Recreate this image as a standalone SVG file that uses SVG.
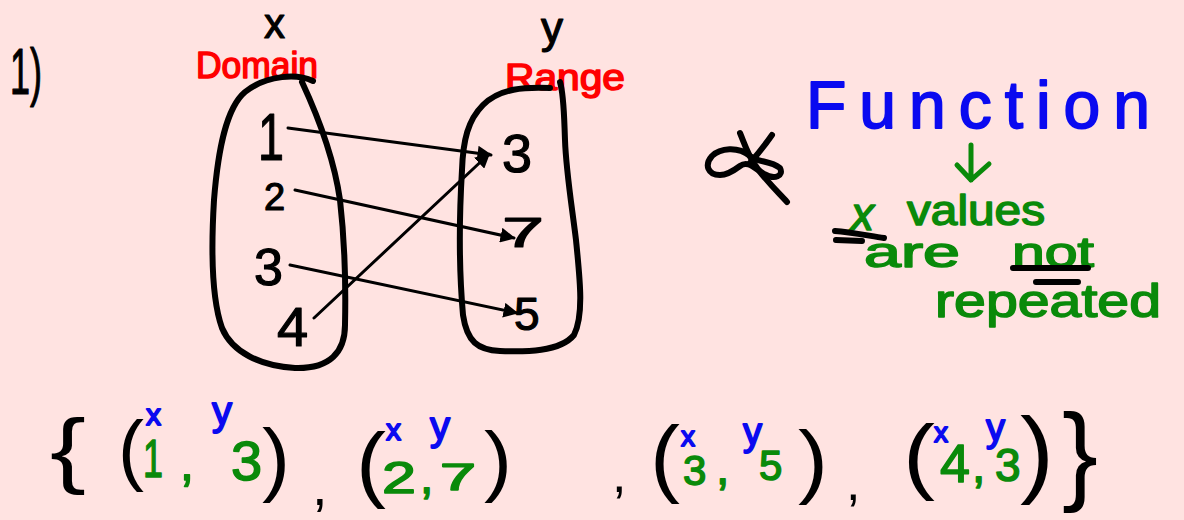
<svg xmlns="http://www.w3.org/2000/svg" width="1184" height="520" viewBox="0 0 1184 520">
<style>
.t{font-family:"Liberation Sans","DejaVu Sans",sans-serif;stroke-linejoin:round;stroke-linecap:round}
.k{fill:#000;stroke:#000;stroke-width:1.2}
.p{fill:#000;stroke:none}
.r{fill:#f00;stroke:#f00;stroke-width:1.5}
.b{fill:#0a0af0;stroke:#0a0af0;stroke-width:1.8}
.g{fill:#0a8a0a;stroke:#0a8a0a;stroke-width:1.5}
.ln{fill:none;stroke:#000;stroke-width:6;stroke-linecap:round;stroke-linejoin:round}
.ar{fill:none;stroke:#000;stroke-width:3;stroke-linecap:round}
</style>
<defs>
<marker id="ah" viewBox="0 0 10 10" refX="9" refY="5" markerWidth="5" markerHeight="5" orient="auto" markerUnits="strokeWidth">
<path d="M0,0 L10,5 L0,10 Z" fill="#000"/>
</marker>
</defs>
<rect width="1184" height="520" fill="#ffe3e1"/>

<g id="label-1">
<text class="t k" x="10" y="94" font-size="64" textLength="32" lengthAdjust="spacingAndGlyphs">1)</text>
</g>

<g id="domain-set">
<text class="t k" x="264" y="38" font-size="42">x</text>
<text class="t r" x="196" y="78" font-size="36" textLength="122" lengthAdjust="spacingAndGlyphs">Domain</text>
<path class="ln" d="M313,81 C298,74 268,74 245,92 C226,108 218,150 214,200 C211,250 212,300 222,328 C232,352 260,366 295,368 C330,369 345,352 345,325 C346,280 344,235 340,200 C335,165 322,125 302,82"/>
<text class="t k" x="258" y="160" font-size="66" textLength="26" lengthAdjust="spacingAndGlyphs">1</text>
<text class="t k" x="264" y="210" font-size="38">2</text>
<text class="t k" x="254" y="285" font-size="52">3</text>
<text class="t k" x="277" y="346" font-size="56">4</text>
</g>

<g id="range-set">
<text class="t k" x="541" y="43" font-size="44">y</text>
<text class="t r" x="505" y="90" font-size="36" textLength="120" lengthAdjust="spacingAndGlyphs">Range</text>
<path class="ln" d="M550,88 C525,87 500,88 483,105 C468,120 463,140 462,170 C459,220 459,270 463,315 C467,342 478,350 500,351 C525,352 560,352 574,335 C584,315 580,280 576,240 C571,200 566,170 565,140 C564,115 564,95 560,82"/>
<text class="t k" x="502" y="172" font-size="54">3</text>
<text class="t k" x="502" y="247" font-size="42" textLength="42" lengthAdjust="spacingAndGlyphs">7</text>
<text class="t k" x="514" y="330" font-size="46">5</text>
</g>

<g id="connectors">
<line class="ar" x1="288" y1="128" x2="491" y2="155" marker-end="url(#ah)"/>
<line class="ar" x1="295" y1="190" x2="514" y2="238" marker-end="url(#ah)"/>
<line class="ar" x1="290" y1="265" x2="517" y2="313" marker-end="url(#ah)"/>
<line class="ar" x1="314" y1="318" x2="489" y2="154" marker-end="url(#ah)"/>
</g>

<g id="symbol">
<path class="ln" d="M720,175 C708,175 704,165 712,156 C720,148 738,146 750,156 C758,163 770,160 780,168 C784,176 775,180 764,174 C754,168 748,160 740,166 C732,172 726,175 720,175"/>
<path class="ln" d="M740,133 C745,145 748,155 755,165 C765,180 778,192 787,202"/>
<path class="ln" d="M772,135 C765,145 757,155 750,163"/>
</g>

<g id="function-note">
<text class="t b" x="806" y="128" font-size="66" textLength="344" lengthAdjust="spacing">Function</text>
<path d="M971,145 L971,180 M957,165 L971,180 L989,164" fill="none" stroke="#0a8a0a" stroke-width="5" stroke-linecap="round" stroke-linejoin="round"/>
<text class="t g" x="851" y="230" font-size="46" font-style="italic">x</text>
<text class="t g" x="907" y="225" font-size="42" textLength="138" lengthAdjust="spacingAndGlyphs">values</text>
<path class="ln" d="M835,231 C850,232 870,236 884,238 M836,240 L862,241"/>
<text class="t g" x="864" y="267" font-size="42" textLength="96" lengthAdjust="spacingAndGlyphs">are</text>
<text class="t g" x="1012" y="267" font-size="42" textLength="82" lengthAdjust="spacingAndGlyphs">not</text>
<path class="ln" d="M1013,268 L1088,268 M1036,282 L1078,282"/>
<text class="t g" x="935" y="317" font-size="46" textLength="226" lengthAdjust="spacingAndGlyphs">repeated</text>
</g>

<g id="ordered-pairs">
<text class="t p" x="50" y="478" font-size="84" textLength="36" lengthAdjust="spacingAndGlyphs">{</text>
<text class="t p" x="118" y="476" font-size="78" textLength="26" lengthAdjust="spacingAndGlyphs">(</text>
<text class="t b" x="146" y="425" font-size="30">x</text>
<text class="t g" x="143" y="477" font-size="54" textLength="20" lengthAdjust="spacingAndGlyphs">1</text>
<text class="t g" x="180" y="480" font-size="50">,</text>
<text class="t b" x="212" y="425" font-size="40">y</text>
<text class="t g" x="231" y="480" font-size="56">3</text>
<text class="t p" x="262" y="486" font-size="82" textLength="28" lengthAdjust="spacingAndGlyphs">)</text>
<text class="t p" x="312" y="505" font-size="56">,</text>

<text class="t p" x="356" y="492" font-size="84" textLength="30" lengthAdjust="spacingAndGlyphs">(</text>
<text class="t b" x="386" y="440" font-size="30">x</text>
<text class="t b" x="430" y="440" font-size="40">y</text>
<text class="t g" x="382" y="493" font-size="44" textLength="34" lengthAdjust="spacingAndGlyphs">2</text>
<text class="t g" x="420" y="493" font-size="48">,</text>
<text class="t g" x="440" y="490" font-size="36" textLength="36" lengthAdjust="spacingAndGlyphs">7</text>
<text class="t p" x="484" y="487" font-size="78" textLength="28" lengthAdjust="spacingAndGlyphs">)</text>
<text class="t p" x="612" y="492" font-size="52">,</text>

<text class="t p" x="650" y="486" font-size="86" textLength="30" lengthAdjust="spacingAndGlyphs">(</text>
<text class="t b" x="681" y="446" font-size="28">x</text>
<text class="t g" x="683" y="485" font-size="42">3</text>
<text class="t g" x="716" y="484" font-size="48">,</text>
<text class="t b" x="743" y="445" font-size="38">y</text>
<text class="t g" x="759" y="480" font-size="42">5</text>
<text class="t p" x="798" y="488" font-size="82" textLength="30" lengthAdjust="spacingAndGlyphs">)</text>
<text class="t p" x="846" y="500" font-size="52">,</text>

<text class="t p" x="903" y="484" font-size="84" textLength="32" lengthAdjust="spacingAndGlyphs">(</text>
<text class="t b" x="934" y="442" font-size="28">x</text>
<text class="t g" x="940" y="482" font-size="54" textLength="30" lengthAdjust="spacingAndGlyphs">4</text>
<text class="t g" x="972" y="482" font-size="48">,</text>
<text class="t b" x="986" y="441" font-size="38">y</text>
<text class="t g" x="995" y="481" font-size="46">3</text>
<text class="t p" x="1020" y="485" font-size="96" textLength="34" lengthAdjust="spacingAndGlyphs">)</text>
<text class="t p" x="1062" y="490" font-size="110" textLength="36" lengthAdjust="spacingAndGlyphs">}</text>
</g>
</svg>
